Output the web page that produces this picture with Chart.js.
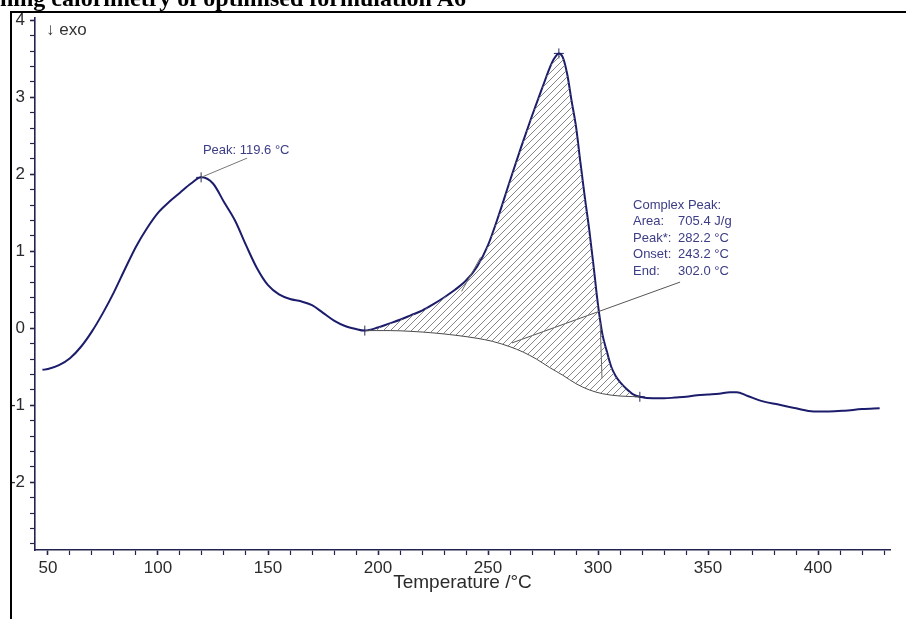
<!DOCTYPE html>
<html>
<head>
<meta charset="utf-8">
<script src="https://cdn.jsdelivr.net/npm/chart.js@4.4.1/dist/chart.umd.min.js"></script>
<style>
  html, body { margin: 0; padding: 0; background: #fff; }
  #wrap { position: relative; width: 906px; height: 619px; overflow: hidden; }
  #dsc { position: absolute; left: 0; top: 0; }
  #title {
    position: absolute; left: 0; top: -14px; white-space: nowrap;
    font: bold 24px/24px "Liberation Serif", "Times New Roman", serif; color: #000;
  }
  #frame {
    position: absolute; left: 10px; top: 11px; width: 1000px; height: 1000px;
    border-left: 2.5px solid #000; border-top: 2.5px solid #000; pointer-events: none;
  }
</style>
</head>
<body>
<div id="wrap">
  <canvas id="dsc" width="906" height="619"></canvas>
  <div id="title">ning calorimetry of optimised formulation A6</div>
  <div id="frame"></div>
</div>
<script>
// DSC trace, temperature (°C) vs heat flow
const temps = [47.5, 50, 55, 60, 65, 70, 75, 80, 85, 90, 95, 100, 105, 110, 115, 119.6,
  125, 130, 135, 140, 145, 150, 155, 160, 165, 170, 175, 180, 185, 190, 194,
  200, 205, 210, 215, 220, 225, 230, 235, 240, 245, 250, 255, 260, 265, 270, 275, 278, 280, 282.2,
  284, 286, 288, 290, 292, 294, 296, 298, 300, 302, 304, 306, 308, 310, 313, 316, 319,
  325, 330, 335, 340, 345, 350, 355, 360, 363, 368, 375, 382, 390, 398, 405, 412, 420, 428];
const heatFlow = [-0.54, -0.53, -0.48, -0.39, -0.24, -0.04, 0.20, 0.47, 0.77, 1.06, 1.30, 1.50, 1.64, 1.76, 1.88, 1.96,
  1.88, 1.64, 1.40, 1.08, 0.78, 0.56, 0.44, 0.38, 0.35, 0.30, 0.20, 0.10, 0.03, -0.01, -0.03,
  0.01, 0.06, 0.11, 0.17, 0.23, 0.31, 0.40, 0.50, 0.62, 0.80, 1.08, 1.48, 1.92, 2.35, 2.76, 3.15, 3.38, 3.50, 3.57,
  3.52, 3.30, 2.95, 2.62, 2.15, 1.70, 1.28, 0.80, 0.30, -0.08, -0.30, -0.50, -0.62, -0.70, -0.79, -0.86, -0.89,
  -0.91, -0.91, -0.90, -0.89, -0.87, -0.86, -0.85, -0.83, -0.83, -0.88, -0.95, -0.99, -1.04, -1.08, -1.08, -1.07, -1.05, -1.04];

// integration baseline of the complex peak
const baseTemps = [194, 205, 215, 225, 235, 245, 252, 260, 266, 272, 278, 284, 290, 296, 302, 310, 319];
const baseFlow = [-0.03, -0.03, -0.04, -0.06, -0.09, -0.13, -0.17, -0.24, -0.31, -0.40, -0.51, -0.61, -0.72, -0.80, -0.85, -0.88, -0.89];
const peakStart = 194, peakEnd = 319;

// "+" marks on the trace
const markTemps = [119.6, 194, 282.2, 319];
const markFlow = [1.96, -0.03, 3.57, -0.89];

// helper lines inside the hatched area
const chordA = [[238, 0.48], [246.6, 0.92]];
const chordB = [[301, 0.06], [301.8, -0.65]];

// leader lines to the labels
const peakLeader = [[119.6, 1.96], [140.5, 2.21]];
const complexLeader = [[260.9, -0.19], [337.3, 0.60]];

const peakLabel = "Peak: 119.6 \u00b0C";
const peakLabelAt = [120.4, 2.31];
const complexRows = [
  ["Complex Peak:", ""],
  ["Area:", "705.4 J/g"],
  ["Peak*:", "282.2 \u00b0C"],
  ["Onset:", "243.2 \u00b0C"],
  ["End:", "302.0 \u00b0C"],
];
const complexLabelAt = [315.9, 1.60];
const complexValueX = 336.4;

const xMajor = [50, 100, 150, 200, 250, 300, 350, 400];
const yMajor = [-2, -1, 0, 1, 2, 3, 4];
const xMin = 44.1, xMax = 432.7, yMin = -2.88, yMax = 4.03;

const navy = "#1c1c6c";
const axisCol = "#23234f";

function pts(xs, ys) { return xs.map((x, i) => ({ x, y: ys[i] })); }
function pairs(p) { return p.map(([x, y]) => ({ x, y })); }

function hatch() {
  const c = document.createElement("canvas");
  c.width = 7; c.height = 7;
  const g = c.getContext("2d");
  g.strokeStyle = "#777";
  g.lineWidth = 0.9;
  g.beginPath();
  g.moveTo(0, 7); g.lineTo(7, 0);
  g.moveTo(-1, 1); g.lineTo(1, -1);
  g.moveTo(6, 8); g.lineTo(8, 6);
  g.stroke();
  return g.createPattern(c, "repeat");
}

const trace = pts(temps, heatFlow);
const hatchTop = trace.filter(p => p.x >= peakStart && p.x <= peakEnd);

const notes = {
  id: "notes",
  afterDatasetsDraw(chart) {
    const { ctx, scales: { x, y }, chartArea } = chart;
    ctx.save();
    ctx.textBaseline = "middle";
    ctx.textAlign = "left";
    ctx.font = '13px "Liberation Sans", Arial, sans-serif';
    ctx.fillStyle = "#3c3c86";
    ctx.fillText(peakLabel, x.getPixelForValue(peakLabelAt[0]), y.getPixelForValue(peakLabelAt[1]));
    const lx = x.getPixelForValue(complexLabelAt[0]);
    const vx = x.getPixelForValue(complexValueX);
    const ly = y.getPixelForValue(complexLabelAt[1]);
    complexRows.forEach((r, i) => {
      ctx.fillText(r[0], lx, ly + i * 16.5);
      if (r[1]) ctx.fillText(r[1], vx, ly + i * 16.5);
    });
    ctx.font = '17px "Liberation Sans", "DejaVu Sans", Arial, sans-serif';
    ctx.fillStyle = "#333";
    ctx.fillText("\u2193 exo", chartArea.left + 11, chartArea.top + 12);
    ctx.restore();
  },
};

new Chart(document.getElementById("dsc"), {
  type: "line",
  data: {
    datasets: [
      {
        data: hatchTop,
        borderWidth: 0,
        pointRadius: 0,
        fill: "+1",
        backgroundColor: hatch(),
        cubicInterpolationMode: "monotone",
      },
      {
        data: pts(baseTemps, baseFlow),
        borderColor: "#4a4a4a",
        borderWidth: 1,
        pointRadius: 0,
        fill: false,
        cubicInterpolationMode: "monotone",
      },
      {
        data: pairs(chordA),
        borderColor: "#666",
        borderWidth: 1,
        pointRadius: 0,
        fill: false,
      },
      {
        data: pairs(chordB),
        borderColor: "#666",
        borderWidth: 1,
        pointRadius: 0,
        fill: false,
      },
      {
        data: pairs(peakLeader),
        borderColor: "#777",
        borderWidth: 1,
        pointRadius: 0,
        fill: false,
      },
      {
        data: pairs(complexLeader),
        borderColor: "#555",
        borderWidth: 1,
        pointRadius: 0,
        fill: false,
      },
      {
        data: trace,
        borderColor: navy,
        borderWidth: 2,
        pointRadius: 0,
        fill: false,
        cubicInterpolationMode: "monotone",
      },
      {
        data: pts(markTemps, markFlow),
        showLine: false,
        pointStyle: "cross",
        pointRadius: 5,
        borderColor: "#2a2a5a",
        borderWidth: 1,
      },
    ],
  },
  options: {
    responsive: false,
    animation: false,
    events: [],
    layout: { padding: { top: 18, right: 16, bottom: 22, left: 0 } },
    plugins: { legend: { display: false }, tooltip: { enabled: false } },
    scales: {
      x: {
        type: "linear",
        min: xMin,
        max: xMax,
        afterBuildTicks: (s) => {
          const t = [];
          for (let v = 50; v <= 430; v += 10) t.push({ value: v });
          s.ticks = t;
        },
        afterFit: (s) => { s.height = 47; },
        grid: {
          drawOnChartArea: false,
          tickLength: 5,
          tickColor: axisCol,
          tickWidth: (c) => (xMajor.includes(c.tick && c.tick.value) ? 1.6 : 1.2),
        },
        border: { display: true, color: axisCol, width: 1.6 },
        ticks: {
          autoSkip: false,
          maxRotation: 0,
          padding: 3,
          color: "#2b2b2b",
          font: { family: '"Liberation Sans", Arial, sans-serif', size: 17 },
          callback: (v) => (xMajor.includes(v) ? String(v) : ""),
        },
        title: {
          display: true,
          text: "Temperature /\u00b0C",
          color: "#2b2b2b",
          font: { family: '"Liberation Sans", Arial, sans-serif', size: 19 },
          padding: { top: 0, bottom: 2.5 },
        },
      },
      y: {
        min: yMin,
        max: yMax,
        afterBuildTicks: (s) => {
          const t = [];
          for (let k = -14; k <= 20; k++) t.push({ value: k / 5 });
          s.ticks = t;
        },
        afterFit: (s) => { s.width = 35; },
        grid: {
          drawOnChartArea: false,
          tickLength: 5,
          tickColor: axisCol,
          tickWidth: (c) => (c.tick && yMajor.includes(c.tick.value) ? 1.6 : 1.2),
        },
        border: { display: true, color: axisCol, width: 1.6 },
        ticks: {
          autoSkip: false,
          padding: 5,
          color: "#2b2b2b",
          font: { family: '"Liberation Sans", Arial, sans-serif', size: 17 },
          callback: (v) => (yMajor.includes(v) ? String(v) : ""),
        },
      },
    },
  },
  plugins: [notes],
});
</script>
</body>
</html>
